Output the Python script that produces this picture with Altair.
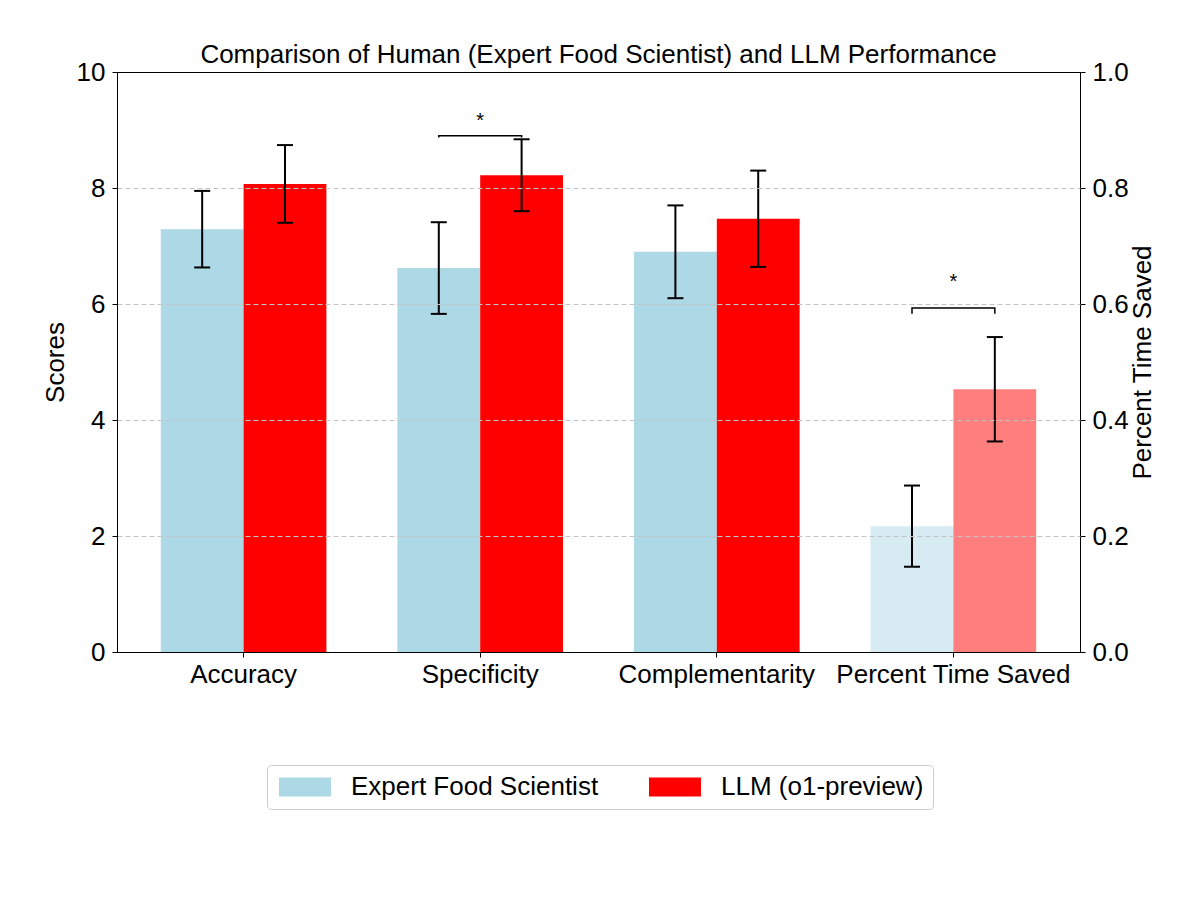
import altair as alt
import pandas as pd

# ---- data ----
categories = ["Accuracy", "Specificity", "Complementarity", "Percent Time Saved"]
series = ["Expert Food Scientist", "LLM (o1-preview)"]
human_mean = [7.29, 6.62, 6.90, 0.217]
human_err = [0.66, 0.79, 0.80, 0.070]
llm_mean = [8.07, 8.22, 7.47, 0.453]
llm_err = [0.67, 0.62, 0.83, 0.090]
sig_categories = ["Specificity", "Percent Time Saved"]
sig_top = [8.90, 0.593]
sig_end = [8.87, 0.583]
sig_star = [9.05, 0.628]
colors = ["#add8e6", "#ff0000"]
score_ticks = [0, 2, 4, 6, 8, 10]
time_ticks = [0.0, 0.2, 0.4, 0.6, 0.8, 1.0]

FONT = "Liberation Sans"
FS = 26
time_cat = categories[3]

rows = []
for i, c in enumerate(categories):
    for s, m, e in ((series[0], human_mean[i], human_err[i]),
                    (series[1], llm_mean[i], llm_err[i])):
        rows.append({"category": c, "series": s, "value": m,
                     "lo": m - e, "hi": m + e})
df = pd.DataFrame(rows)

br_rows = []
star_rows = []
for c, t, e, st in zip(sig_categories, sig_top, sig_end, sig_star):
    br_rows += [
        {"category": c, "series": series[0], "y": e, "k": 0},
        {"category": c, "series": series[0], "y": t, "k": 1},
        {"category": c, "series": series[1], "y": t, "k": 2},
        {"category": c, "series": series[1], "y": e, "k": 3},
    ]
    star_rows.append({"category": c, "y": st})
br = pd.DataFrame(br_rows)
stars = pd.DataFrame(star_rows)

xenc = alt.X("category:N", sort=categories,
             scale=alt.Scale(domain=categories, paddingInner=0.3, paddingOuter=0.185),
             axis=alt.Axis(title=None, labelAngle=0, tickSize=5, labelPadding=4,
                           labelLimit=400,
                           domainColor="black", tickColor="black"))
xoff = alt.XOffset("series:N",
                   scale=alt.Scale(domain=series, paddingInner=0, paddingOuter=0))
legend = alt.Legend(
    title=None, orient="none", legendX=150, legendY=693, direction="horizontal",
    symbolType="M-1,-0.95H4.2V0.95H-1Z", symbolSize=400, symbolStrokeWidth=0,
    symbolOpacity=1, labelFontSize=FS, labelFont=FONT, labelColor="black",
    labelOffset=49, labelLimit=400, columnPadding=47, padding=9,
    strokeColor="#cccccc", fillColor="white", cornerRadius=4,
)
cenc = alt.Color("series:N", scale=alt.Scale(domain=series, range=colors), legend=legend)


def build(data, brd, std, yscale, axis, opacity):
    base = alt.Chart(data)
    bars = base.mark_bar(opacity=opacity).encode(
        x=xenc, xOffset=xoff,
        y=alt.Y("value:Q", scale=yscale, axis=axis),
        color=cenc,
    )
    rule = base.mark_rule(color="black", strokeWidth=2).encode(
        x=xenc, xOffset=xoff, y=alt.Y("lo:Q"), y2="hi:Q")
    cap_lo = base.mark_tick(color="black", thickness=2, size=16, opacity=1).encode(
        x=xenc, xOffset=xoff, y=alt.Y("lo:Q"))
    cap_hi = base.mark_tick(color="black", thickness=2, size=16, opacity=1).encode(
        x=xenc, xOffset=xoff, y=alt.Y("hi:Q"))
    bracket = alt.Chart(brd).mark_line(color="black", strokeWidth=1.5).encode(
        x=xenc, xOffset=xoff, y=alt.Y("y:Q"), order="k:Q")
    star = alt.Chart(std).mark_text(text="*", fontSize=20, font=FONT,
                                    baseline="alphabetic", color="black").encode(
        x=xenc, y=alt.Y("y:Q"))
    return alt.layer(bars, rule, cap_lo, cap_hi, bracket, star)


left_axis = alt.Axis(
    title="Scores", orient="left", values=score_ticks, format="d",
    grid=True, gridDash=[5, 3], gridColor="#c4c4c4", gridWidth=1,
    gridOpacity={"condition": {"test": "datum.value === 0 || datum.value === 10", "value": 0},
                 "value": 1},
    zindex=1, tickSize=5, labelPadding=7, titlePadding=8,
    domainColor="black", tickColor="black",
)
right_axis = alt.Axis(
    title="Percent Time Saved", orient="right", values=time_ticks, format=".1f",
    grid=False, titleAngle=270, titleBaseline="top", tickSize=5, labelPadding=7,
    titlePadding=1, domainColor="black", tickColor="black",
)

score_layer = build(df[df.category != time_cat], br[br.category != time_cat],
                    stars[stars.category != time_cat],
                    alt.Scale(domain=[0, 10], nice=False), left_axis, 1)
time_layer = build(df[df.category == time_cat], br[br.category == time_cat],
                   stars[stars.category == time_cat],
                   alt.Scale(domain=[0, 1], nice=False), right_axis, 0.5)

chart = alt.layer(score_layer, time_layer).resolve_scale(y="independent").properties(
    width=963, height=580,
    padding={"left": 109, "top": 64, "right": 94, "bottom": 264},
    autosize=alt.AutoSizeParams(type="none"),
    title=alt.TitleParams(
        "Comparison of Human (Expert Food Scientist) and LLM Performance",
        font=FONT, fontSize=FS, fontWeight="normal", color="black",
        anchor="middle", frame="group", baseline="alphabetic", offset=14, dy=44),
).configure_axis(
    labelFont=FONT, titleFont=FONT, labelFontSize=FS, titleFontSize=FS,
    labelColor="black", titleColor="black", titleFontWeight="normal",
).configure_view(stroke="black", strokeWidth=1)

chart.save("out.html", embed_options={"renderer": "svg", "actions": False})
